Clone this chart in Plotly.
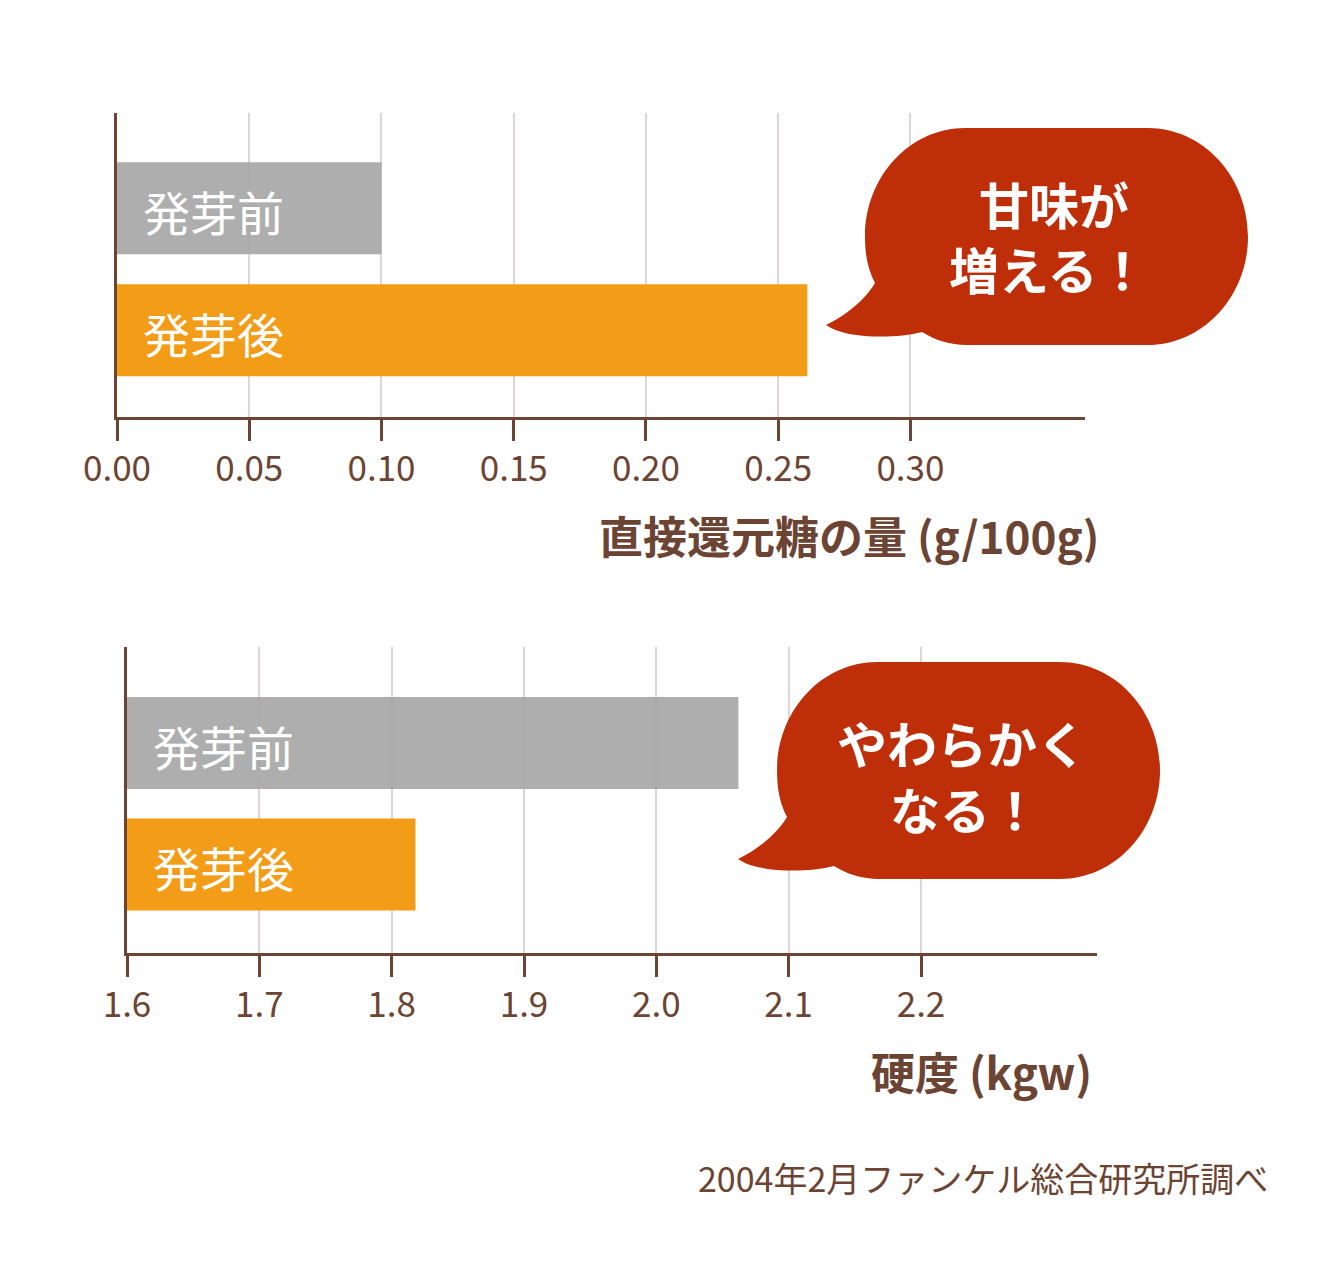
import plotly.graph_objects as go

W, H = 1338, 1266

# ---- data ----
categories = ["発芽前", "発芽後"]
sugar_values = [0.100, 0.261]          # 直接還元糖の量 (g/100g)
hardness_values = [2.062, 1.818]       # 硬度 (kgw)
sugar_tickvals = [0.00, 0.05, 0.10, 0.15, 0.20, 0.25, 0.30]
sugar_ticktext = ["0.00", "0.05", "0.10", "0.15", "0.20", "0.25", "0.30"]
hardness_tickvals = [1.6, 1.7, 1.8, 1.9, 2.0, 2.1, 2.2]
hardness_ticktext = ["1.6", "1.7", "1.8", "1.9", "2.0", "2.1", "2.2"]
bar_colors = ["rgba(168,168,168,0.93)", "#f29c17"]
sugar_title = "直接還元糖の量 (g/100g)"
hardness_title = "硬度 (kgw)"
bubble1_lines = ["甘味が", "増える！"]
bubble2_lines = ["やわらかく", "なる！"]
source_note = "2004年2月ファンケル総合研究所調べ"

# ---- style ----
BROWN = "#6b4433"
GRID = "#ddd5d3"
RED = "#be2e08"
FONT = "Noto Sans CJK JP"


def px(x):
    return x / W


def py(y):
    return 1 - y / H


fig = go.Figure()

fig.add_trace(go.Bar(orientation="h", y=categories, x=sugar_values,
                     marker=dict(color=bar_colors, line=dict(width=0)),
                     width=0.754, xaxis="x", yaxis="y", hoverinfo="skip"))
fig.add_trace(go.Bar(orientation="h", y=categories, x=hardness_values,
                     marker=dict(color=bar_colors, line=dict(width=0)),
                     width=0.757, xaxis="x2", yaxis="y2", hoverinfo="skip"))

xcommon = dict(showline=True, linewidth=3, linecolor=BROWN,
               ticks="outside", ticklen=21, tickwidth=3, tickcolor=BROWN,
               showgrid=True, gridcolor=GRID, gridwidth=2, zeroline=False,
               tickfont=dict(family=FONT, size=35, color=BROWN),
               ticklabelstandoff=-2, fixedrange=True, automargin=False)
ycommon = dict(showline=True, linewidth=3, linecolor=BROWN,
               showticklabels=False, ticks="", showgrid=False,
               zeroline=False, type="category", fixedrange=True,
               automargin=False)

fig.update_layout(
    width=W, height=H,
    margin=dict(l=0, r=0, t=0, b=0, autoexpand=False),
    paper_bgcolor="white", plot_bgcolor="white",
    showlegend=False,
    xaxis=dict(domain=[px(117), px(1085)], range=[0, 0.366], anchor="y",
               tickvals=sugar_tickvals, ticktext=sugar_ticktext, **xcommon),
    yaxis=dict(domain=[py(417), py(113)], range=[1.71, -0.78], anchor="x",
               **ycommon),
    xaxis2=dict(domain=[px(127), px(1097)], range=[1.6, 2.333], anchor="y2",
                tickvals=hardness_tickvals, ticktext=hardness_ticktext, **xcommon),
    yaxis2=dict(domain=[py(953), py(647)], range=[1.728, -0.79], anchor="x2",
                **ycommon),
)

annotations = []
# bar labels inside bars
for xa, ya, base in (("x", "y", 0.0), ("x2", "y2", 1.6)):
    for c in categories:
        annotations.append(dict(x=base, y=c, xref=xa, yref=ya, text=c,
                                showarrow=False, xanchor="left", yanchor="middle",
                                xshift=24, yshift=-2,
                                font=dict(family=FONT, size=47, color="white")))

# axis titles
annotations.append(dict(x=px(1101), y=py(535), xref="paper", yref="paper",
                        text=sugar_title, showarrow=False, xanchor="right",
                        yanchor="middle",
                        font=dict(family=FONT, size=44, color=BROWN, weight="bold")))
annotations.append(dict(x=px(1094), y=py(1071), xref="paper", yref="paper",
                        text=hardness_title, showarrow=False, xanchor="right",
                        yanchor="middle",
                        font=dict(family=FONT, size=44, color=BROWN, weight="bold")))
# source
annotations.append(dict(x=px(1270), y=py(1177), xref="paper", yref="paper",
                        text=source_note, showarrow=False, xanchor="right",
                        yanchor="middle",
                        font=dict(family=FONT, size=34, color=BROWN)))


def bubble_path(dx, dy):
    # speech bubble outline (pixel geometry, shifted by dx, dy)
    segs = [
        ("M", [(965, 128)]),
        ("L", [(1148, 128)]),
        ("C", [(1203, 128), (1248, 176.6), (1248, 236.5)]),
        ("C", [(1248, 296.4), (1203, 345), (1148, 345)]),
        ("L", [(967, 345)]),
        ("C", [(950, 345), (935, 340), (922, 332)]),
        ("C", [(895, 339), (845, 339), (826, 325)]),
        ("C", [(845, 316), (865, 300), (875, 283)]),
        ("C", [(868, 270), (865, 255), (865, 236.5)]),
        ("C", [(865, 176.6), (910, 128), (965, 128)]),
    ]
    out = []
    for cmd, pts in segs:
        coords = " ".join(f"{px(x + dx):.5f},{py(y + dy):.5f}" for x, y in pts)
        out.append(f"{cmd} {coords}")
    return " ".join(out) + " Z"


shapes = [
    dict(type="path", path=bubble_path(0, 0), xref="paper", yref="paper",
         fillcolor=RED, line=dict(width=0), layer="above"),
    dict(type="path", path=bubble_path(-88, 534), xref="paper", yref="paper",
         fillcolor=RED, line=dict(width=0), layer="above"),
]

bubble_text_pos = [
    (bubble1_lines, [(1054, 203), (1048, 268)]),
    (bubble2_lines, [(962, 742), (965, 808)]),
]
for lines, pos in bubble_text_pos:
    for t, (x, y) in zip(lines, pos):
        annotations.append(dict(x=px(x), y=py(y), xref="paper", yref="paper",
                                text=t, showarrow=False, xanchor="center",
                                yanchor="middle",
                                font=dict(family=FONT, size=50, color="white",
                                          weight="bold")))

fig.update_layout(annotations=annotations, shapes=shapes)

fig.write_html("out.html", config={"displayModeBar": False},
               post_script="document.body.style.margin='0';")
